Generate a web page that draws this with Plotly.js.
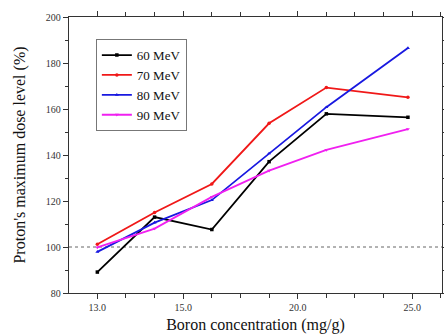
<!DOCTYPE html>
<html>
<head>
<meta charset="utf-8">
<script src="https://cdn.plot.ly/plotly-3.0.1.min.js"></script>
<style>html,body{margin:0;padding:0;background:#fff;}#chart{width:444px;height:334px;}</style>
</head>
<body>
<div id="chart"></div>
<script>
// Positions along the (non-uniform) boron concentration axis, in tick-step units
const xPositions = [0, 2, 4, 6, 8, 10.85];
const tickPositions = [0, 3, 7, 11];
const tickLabels = ["13.0", "15.0", "20.0", "25.0"];

const seriesNames = ["60 MeV", "70 MeV", "80 MeV", "90 MeV"];
const mev60 = [89.1, 113.0, 107.6, 137.1, 157.9, 156.4];
const mev70 = [101.2, 115.0, 127.4, 153.8, 169.3, 165.1];
const mev80 = [97.9, 110.6, 120.4, 140.7, 160.8, 186.5];
const mev90 = [99.8, 108.0, 121.8, 133.2, 142.2, 151.3];
const referenceLevel = 100;

const colors = ["#000000", "#f01818", "#1818e0", "#f020f0"];
const symbols = ["square", "circle", "triangle-up", "triangle-down"];
const allSeries = [mev60, mev70, mev80, mev90];

const traces = allSeries.map((ys, i) => ({
  x: xPositions,
  y: ys,
  name: seriesNames[i],
  type: "scatter",
  mode: "lines+markers",
  line: {color: colors[i], width: 1.8},
  marker: {color: colors[i], size: 3.5, symbol: symbols[i]}
}));

const serif = "'Liberation Serif', 'Times New Roman', serif";

const layout = {
  width: 444, height: 334,
  margin: {l: 69, r: 2, t: 17, b: 41},
  paper_bgcolor: "#fff", plot_bgcolor: "#fff",
  showlegend: true,
  legend: {
    x: 0.072, y: 0.92, xanchor: "left", yanchor: "top",
    bordercolor: "#777", borderwidth: 1, bgcolor: "#fff",
    font: {family: serif, size: 13, color: "#111"},
    tracegroupgap: 0, itemwidth: 30
  },
  xaxis: {
    range: [-0.99, 12.04],
    tickmode: "array", tickvals: tickPositions, ticktext: tickLabels,
    ticks: "outside", ticklen: 5, tickcolor: "#333",
    minor: {tickmode: "linear", tick0: 0, dtick: 1, ticklen: 4, tickcolor: "#333", ticks: "outside"},
    showline: true, linecolor: "#333", linewidth: 1.2, mirror: "allticks",
    showgrid: false, zeroline: false,
    tickfont: {family: serif, size: 10, color: "#333"},
    title: {text: "Boron concentration (mg/g)", font: {family: serif, size: 16, color: "#111"}, standoff: 8}
  },
  yaxis: {
    range: [80, 200], dtick: 20, tick0: 80,
    ticks: "outside", ticklen: 5, tickcolor: "#333",
    minor: {dtick: 10, ticklen: 3, tickcolor: "#333", ticks: "outside"},
    showline: true, linecolor: "#333", linewidth: 1.2, mirror: "allticks",
    showgrid: false, zeroline: false,
    tickfont: {family: serif, size: 10, color: "#333"},
    title: {text: "Proton's maximum dose level (%)", font: {family: serif, size: 16, color: "#111"}, standoff: 16}
  },
  shapes: [{
    type: "line", xref: "paper", x0: 0, x1: 1, yref: "y", y0: referenceLevel, y1: referenceLevel,
    line: {color: "#666", width: 1, dash: "dot"}, layer: "below"
  }]
};

Plotly.newPlot("chart", traces, layout, {displayModeBar: false, staticPlot: true});
</script>
</body>
</html>
